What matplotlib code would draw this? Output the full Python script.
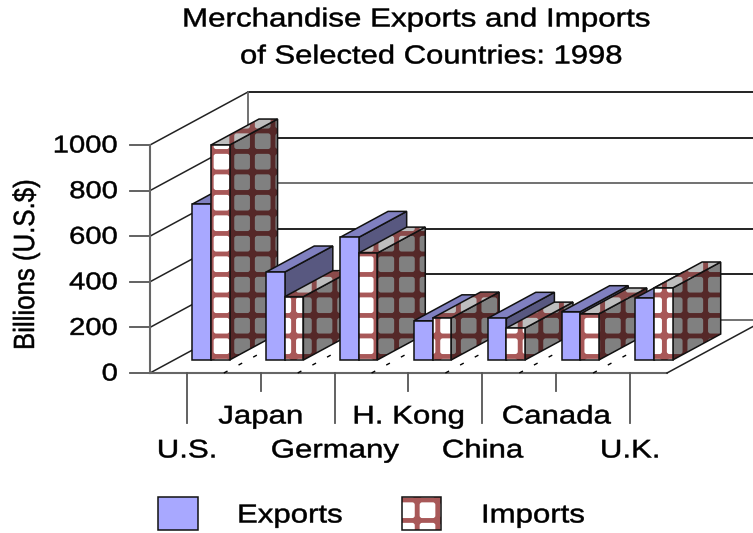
import matplotlib
matplotlib.use('Agg')
import matplotlib.pyplot as plt
from matplotlib.patches import Polygon, FancyBboxPatch
from matplotlib.patheffects import AbstractPathEffect
from matplotlib.transforms import Affine2D

plt.rcParams['font.family'] = ['Liberation Sans', 'DejaVu Sans']

# data
countries = ['U.S.', 'Japan', 'Germany', 'H. Kong', 'China', 'Canada', 'U.K.']
exports = [684, 386, 538, 172, 183, 212, 272]
imports = [943, 278, 469, 184, 140, 202, 316]
y_ticks = [0, 200, 400, 600, 800, 1000]

# chart box in pixels
x0, y0 = 150, 373        # front left floor corner
x1 = 667                 # front right floor corner
px_per_unit = 0.228
back_dx, back_dy = 98, -53   # front to back wall
cat_w = (x1 - x0) / len(countries)
bar_w = 18.6
depth_start, depth_end = 0.245, 0.735

exp_front, exp_top, exp_side = '#A8A8FF', '#8080C0', '#585880'
imp_front = ('#A85858', '#FFFFFF')
imp_side = ('#552828', '#808080')
imp_top = ('#8A4A4A', '#BEBEBE')

# pattern tile, same screen grid for all faces
tile_x, tile_y = 221.5, 161.7
tile_px, tile_py = 20.6, 20.5
tile_size = 15.7

fig = plt.figure(figsize=(7.53, 5.33), dpi=100)
ax = fig.add_axes([0, 0, 1, 1])
ax.set_xlim(0, 753)
ax.set_ylim(533, 0)
ax.axis('off')
renderer = fig.canvas.get_renderer()


# the original text is stretched sideways, keep it real text but widen the glyphs
class StretchX(AbstractPathEffect):
    def __init__(self, sx):
        super().__init__()
        self.sx = sx

    def draw_path(self, renderer, gc, tpath, affine, rgbFace=None):
        gc0 = renderer.new_gc()
        gc0.copy_properties(gc)
        gc0.set_linewidth(0.35)
        gc0.set_foreground('black')
        renderer.draw_path(gc0, tpath, Affine2D().scale(self.sx, 1) + affine, rgbFace)
        gc0.restore()


def label(x, y, s, size, sx=1.2, ha='left'):
    t = ax.text(x, y + 1.5, s, ha='left', va='center', fontsize=size, zorder=1000)
    w = t.get_window_extent(renderer).width * sx
    if ha == 'center':
        t.set_x(x - w / 2)
    elif ha == 'right':
        t.set_x(x - w)
    t.set_path_effects([StretchX(sx)])
    return t


order = [1]
def next_z():
    order[0] += 1
    return order[0]

def val_y(v):
    return y0 - v * px_per_unit

def tile_fill(pts, colors):
    bg, fg = colors
    z = next_z()
    poly = Polygon(pts, closed=True, facecolor=bg, edgecolor='none', zorder=z)
    ax.add_patch(poly)
    xs = [p[0] for p in pts]
    ys = [p[1] for p in pts]
    i0 = int((min(xs) - tile_x) // tile_px) - 1
    i1 = int((max(xs) - tile_x) // tile_px) + 2
    j0 = int((min(ys) - tile_y) // tile_py) - 1
    j1 = int((max(ys) - tile_y) // tile_py) + 2
    for i in range(i0, i1):
        for j in range(j0, j1):
            cx = tile_x + i * tile_px
            cy = tile_y + j * tile_py
            sq = FancyBboxPatch((cx - tile_size / 2, cy - tile_size / 2), tile_size, tile_size,
                                boxstyle='round,pad=0,rounding_size=2.5', facecolor=fg,
                                edgecolor='none', zorder=z)
            ax.add_patch(sq)
            sq.set_clip_path(poly)
    ax.add_patch(Polygon(pts, closed=True, facecolor='none', edgecolor='#111111', lw=1.1, zorder=next_z()))

def plain_fill(pts, color):
    ax.add_patch(Polygon(pts, closed=True, facecolor=color, edgecolor='#111111', lw=1.1, zorder=next_z()))

def draw_bar(left, value, front, top, side, textured):
    dx = back_dx * (depth_end - depth_start)
    dy = back_dy * (depth_end - depth_start)
    floor = y0 + back_dy * depth_start
    ytop = floor - value * px_per_unit
    right = left + bar_w
    side_pts = [(right, floor), (right + dx, floor + dy), (right + dx, ytop + dy), (right, ytop)]
    top_pts = [(left, ytop), (right, ytop), (right + dx, ytop + dy), (left + dx, ytop + dy)]
    front_pts = [(left, floor), (right, floor), (right, ytop), (left, ytop)]
    fill = tile_fill if textured else plain_fill
    fill(side_pts, side)
    fill(top_pts, top)
    fill(front_pts, front)

# walls and grid
for v in y_ticks:
    y = val_y(v)
    grey = v in (0, 600)
    ax.plot([x0, x0 + back_dx], [y, y + back_dy], color='#222222', lw=1.1, zorder=1)
    ax.plot([x0 + back_dx, 753], [y + back_dy, y + back_dy], color='#666666' if grey else '#111111',
            lw=1.3, zorder=1)
    ax.plot([130, x0], [y, y], color='#555555', lw=1.3, zorder=1)
    label(118, y, str(v), 17.5, ha='right')
ax.plot([x0, x0], [val_y(1000), y0], color='#666666', lw=1.5, zorder=1)
ax.plot([x0 + back_dx] * 2, [val_y(1000) + back_dy, y0 + back_dy], color='#666666', lw=1.3, zorder=1)
ax.plot([x0, x1], [y0, y0], color='#666666', lw=1.5, zorder=1)
ax.plot([x1, x1 + back_dx], [y0, y0 + back_dy], color='#222222', lw=1.1, zorder=1)

# floor dashes and category ticks
for i in range(len(countries)):
    bx = x0 + cat_w * (i + 1)
    if i < len(countries) - 1:
        ax.plot([bx, bx + back_dx], [y0, y0 + back_dy], color='black', lw=1, dashes=(3, 9), zorder=1)
    cx = x0 + cat_w * (i + 0.5)
    low = i % 2 == 0
    ax.plot([cx, cx], [y0, 423 if low else 391], color='#555555', lw=1.3, zorder=1)
    label(cx, 449 if low else 415, countries[i], 18.4, sx=1.22, ha='center')

# bars, left to right so later ones cover earlier ones
for i in range(len(countries)):
    c = x0 + cat_w * (i + 0.5) + back_dx * depth_start
    draw_bar(c - bar_w, exports[i], exp_front, exp_top, exp_side, False)
    draw_bar(c, imports[i], imp_front, imp_top, imp_side, True)

# titles
label(182, 18, 'Merchandise Exports and Imports', 18.8, sx=1.2)
label(240, 55, 'of Selected Countries: 1998', 18.8, sx=1.187)
t = ax.text(26, 350, 'Billions (U.S.$)', rotation=90, rotation_mode='anchor', ha='left', va='center',
            fontsize=21, zorder=1000)
t.set_path_effects([StretchX(0.885)])

# legend
plain_fill([(158, 497), (198, 497), (198, 530), (158, 530)], exp_front)
tile_fill([(402, 497), (441, 497), (441, 530), (402, 530)], imp_front)
label(237, 514, 'Exports', 18.7, sx=1.2)
label(481, 514, 'Imports', 18.7, sx=1.2)

fig.savefig('out.png', dpi=100)
